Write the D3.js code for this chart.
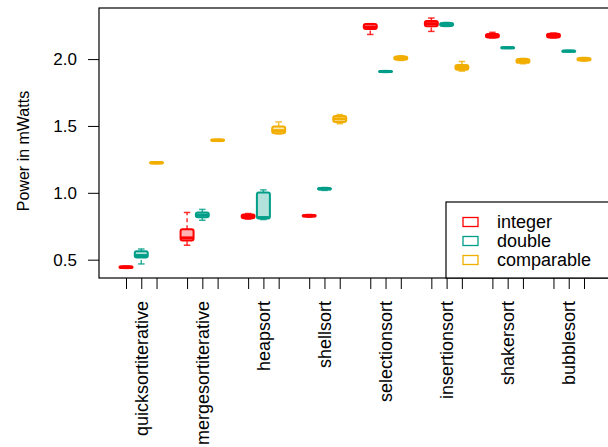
<!DOCTYPE html>
<html>
<head>
<meta charset="utf-8">
<script src="https://cdn.jsdelivr.net/npm/d3@7"></script>
<style>
  body { margin: 0; background: #fff; }
  text { font-family: "Liberation Sans", Arial, Helvetica, sans-serif; fill: #000; }
</style>
</head>
<body>
<div id="chart"></div>
<script>
var svgWidth = 608;
var svgHeight = 447;

// data: [lower whisker, q1, median, q3, upper whisker]
var algorithms = ["quicksortiterative", "mergesortiterative", "heapsort", "shellsort",
  "selectionsort", "insertionsort", "shakersort", "bubblesort"];
var types = ["integer", "double", "comparable"];
var colors = ["#FF0000", "#009E88", "#F2AE00"];

var integerStats = [
  [0.435, 0.438, 0.443, 0.450, 0.452],
  [0.608, 0.643, 0.663, 0.728, 0.853],
  [0.803, 0.810, 0.823, 0.838, 0.845],
  [0.818, 0.822, 0.828, 0.834, 0.838],
  [2.184, 2.225, 2.240, 2.262, 2.265],
  [2.207, 2.245, 2.265, 2.285, 2.307],
  [2.158, 2.162, 2.175, 2.188, 2.200],
  [2.158, 2.162, 2.177, 2.190, 2.195]
];
var doubleStats = [
  [0.468, 0.516, 0.531, 0.563, 0.580],
  [0.795, 0.818, 0.833, 0.853, 0.876],
  [0.800, 0.808, 0.815, 1.003, 1.022],
  [1.018, 1.024, 1.030, 1.036, 1.040],
  [1.900, 1.903, 1.907, 1.911, 1.914],
  [2.244, 2.248, 2.260, 2.270, 2.274],
  [2.080, 2.082, 2.085, 2.088, 2.090],
  [2.055, 2.057, 2.060, 2.063, 2.065]
];
var comparableStats = [
  [1.218, 1.220, 1.225, 1.230, 1.232],
  [1.385, 1.388, 1.393, 1.398, 1.400],
  [1.440, 1.445, 1.465, 1.495, 1.530],
  [1.517, 1.530, 1.553, 1.575, 1.585],
  [1.990, 1.995, 2.008, 2.020, 2.025],
  [1.910, 1.920, 1.937, 1.955, 1.982],
  [1.965, 1.972, 1.987, 2.000, 2.005],
  [1.985, 1.990, 1.997, 2.008, 2.012]
];
var yTicks = [0.5, 1.0, 1.5, 2.0];

var allStats = [integerStats, doubleStats, comparableStats];

// flatten into boxes with a position like R's at=
var boxes = [];
algorithms.forEach(function(alg, i) {
  types.forEach(function(t, j) {
    boxes.push({ alg: alg, type: j, pos: i * 4 + j + 1, s: allStats[j][i] });
  });
});

var plot = { left: 99, top: 8, bottom: 278, right: 640 };

var x = d3.scaleLinear().domain([1, 31]).range([126, 584]);
var y = d3.scaleLinear().domain([0.363, 2.382]).range([plot.bottom, plot.top]);
var boxW = 13;

var svg = d3.select("#chart")
  .append("svg")
  .attr("width", svgWidth)
  .attr("height", svgHeight);

// boxes
var g = svg.append("g");
var bx = g.selectAll("g.box")
  .data(boxes)
  .enter()
  .append("g")
  .attr("class", "box");

// whiskers (dashed)
bx.append("line")
  .attr("x1", d => x(d.pos)).attr("x2", d => x(d.pos))
  .attr("y1", d => y(d.s[0])).attr("y2", d => y(d.s[1]))
  .attr("stroke", d => colors[d.type]).attr("stroke-width", 1.5)
  .attr("stroke-dasharray", "4,3").attr("opacity", 0.8);
bx.append("line")
  .attr("x1", d => x(d.pos)).attr("x2", d => x(d.pos))
  .attr("y1", d => y(d.s[3])).attr("y2", d => y(d.s[4]))
  .attr("stroke", d => colors[d.type]).attr("stroke-width", 1.5)
  .attr("stroke-dasharray", "4,3").attr("opacity", 0.8);

// staples
[0, 4].forEach(function(k) {
  bx.append("line")
    .attr("x1", d => x(d.pos) - boxW / 4).attr("x2", d => x(d.pos) + boxW / 4)
    .attr("y1", d => y(d.s[k])).attr("y2", d => y(d.s[k]))
    .attr("stroke", d => colors[d.type]).attr("stroke-width", 1.5)
    .attr("opacity", 0.8);
});

bx.append("rect")
  .attr("x", d => x(d.pos) - boxW / 2)
  .attr("width", boxW)
  .attr("y", d => y(d.s[3]))
  .attr("height", d => Math.max(1, y(d.s[1]) - y(d.s[3])))
  .attr("fill", d => colors[d.type])
  .attr("fill-opacity", 0.3)
  .attr("stroke", d => colors[d.type])
  .attr("stroke-width", 2)
  .attr("rx", 2);

bx.append("line")
  .attr("x1", d => x(d.pos) - boxW / 2).attr("x2", d => x(d.pos) + boxW / 2)
  .attr("y1", d => y(d.s[2])).attr("y2", d => y(d.s[2]))
  .attr("stroke", d => colors[d.type]).attr("stroke-width", 3);

// frame
svg.append("rect")
  .attr("x", plot.left).attr("y", plot.top)
  .attr("width", plot.right - plot.left).attr("height", plot.bottom - plot.top)
  .attr("fill", "none").attr("stroke", "#000").attr("stroke-width", 1.2);

// y axis
var leftAxis = d3.axisLeft(y).tickValues(yTicks).tickFormat(d3.format(".1f"))
  .tickSize(11).tickPadding(11);
var yAxisG = svg.append("g")
  .attr("transform", `translate(${plot.left}, 0)`)
  .call(leftAxis);
yAxisG.select(".domain").remove();
yAxisG.selectAll("text").attr("font-size", "17px").attr("fill", "#000")
  .style("font-family", "'Liberation Sans', Arial, sans-serif");

// x axis ticks
var positions = boxes.map(d => d.pos);
var bottomAxis = d3.axisBottom(x).tickValues(positions).tickFormat("").tickSize(11);
var xAxisG = svg.append("g")
  .attr("transform", `translate(0, ${plot.bottom})`)
  .call(bottomAxis);
xAxisG.select(".domain").remove();

// x labels, rotated
svg.selectAll("text.xlab")
  .data(algorithms)
  .enter()
  .append("text")
  .attr("class", "xlab")
  .attr("transform", (d, i) => `translate(${x(i * 4 + 2) + 6.5}, 301) rotate(-90)`)
  .attr("text-anchor", "end")
  .attr("font-size", "18px")
  .text(d => d);

// y title
svg.append("text")
  .attr("transform", `translate(29, ${(plot.top + plot.bottom) / 2 + 8}) rotate(-90)`)
  .attr("text-anchor", "middle")
  .attr("font-size", "16px")
  .text("Power in mWatts");

// legend
var legend = svg.append("g");
legend.append("rect")
  .attr("x", 446).attr("y", 202)
  .attr("width", 200).attr("height", plot.bottom - 202)
  .attr("fill", "#fff").attr("stroke", "#000").attr("stroke-width", 1.2);
var items = legend.selectAll("g.item")
  .data(types)
  .enter()
  .append("g")
  .attr("transform", (d, i) => `translate(0, ${222 + i * 19})`);
items.append("rect")
  .attr("x", 463).attr("y", -4.5).attr("width", 15).attr("height", 9)
  .attr("fill", "#fff")
  .attr("stroke", (d, i) => colors[i]).attr("stroke-width", 1.3);
items.append("text")
  .attr("x", 497).attr("y", 6)
  .attr("font-size", "18px")
  .text(d => d);
</script>
</body>
</html>
